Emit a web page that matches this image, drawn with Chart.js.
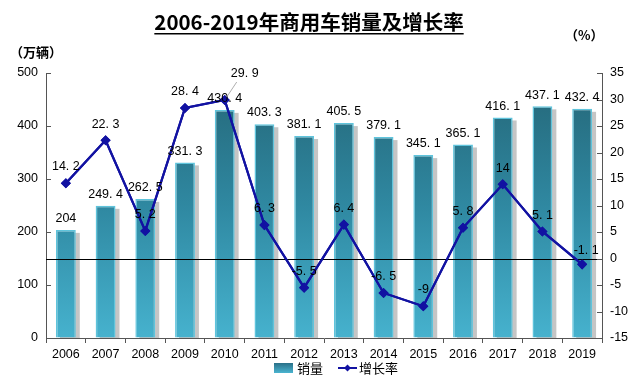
<!DOCTYPE html>
<html>
<head>
<meta charset="utf-8">
<script src="https://cdn.jsdelivr.net/npm/chart.js@4"></script>
<style>
  html, body { margin: 0; padding: 0; background: #fff; }
  #wrap { width: 640px; height: 376px; }
</style>
</head>
<body>
<div id="wrap"><canvas id="myChart" width="640" height="376"></canvas></div>
<script>
var years = ["2006", "2007", "2008", "2009", "2010", "2011", "2012", "2013", "2014", "2015", "2016", "2017", "2018", "2019"];
var sales = [204, 249.4, 262.5, 331.3, 430.4, 403.3, 381.1, 405.5, 379.1, 345.1, 365.1, 416.1, 437.1, 432.4];
var growth = [14.2, 22.3, 5.2, 28.4, 29.9, 6.3, -5.5, 6.4, -6.5, -9, 5.8, 14, 5.1, -1.1];
var titleText = "2006-2019年商用车销量及增长率";

var numFont = "'Liberation Sans', Arial, sans-serif";
var tickFont = "'Liberation Sans', Arial, sans-serif";
var cjkFont = "'Noto Sans CJK SC', sans-serif";
var lineColor = "#1212a2";

function fmt(v) {
    // the reference shows a spaced decimal point
    return String(v).replace(".", ". ");
}

function barGradient(context) {
    var chart = context.chart;
    var area = chart.chartArea;
    if (!area) return "#3a9ab8";
    var g = chart.ctx.createLinearGradient(0, area.top, 0, area.bottom);
    g.addColorStop(0, "#246576");
    g.addColorStop(0.5, "#2f88a1");
    g.addColorStop(1, "#46b2ce");
    return g;
}

var extras = {
    id: "extras",
    beforeDatasetsDraw: function (chart) {
        var ctx = chart.ctx;
        var meta = chart.getDatasetMeta(0);
        ctx.save();
        ctx.fillStyle = "rgba(150,150,150,0.55)";
        meta.data.forEach(function (bar) {
            var w = bar.width;
            ctx.fillRect(bar.x - w / 2 + 4, bar.y + 3, w, chart.chartArea.bottom - bar.y - 3);
        });
        ctx.restore();
    },
    afterDraw: function (chart) {
        var ctx = chart.ctx;
        var area = chart.chartArea;
        var y1 = chart.scales.y;
        var y2 = chart.scales.y2;
        ctx.save();

        // zero line of the growth axis
        var zy = Math.round(y2.getPixelForValue(0)) + 0.5;
        ctx.strokeStyle = "#000";
        ctx.lineWidth = 1;
        ctx.beginPath();
        ctx.moveTo(area.left, zy);
        ctx.lineTo(area.right, zy);
        ctx.stroke();

        // inward tick marks on both value axes
        ctx.strokeStyle = "#555";
        ctx.beginPath();
        y1.ticks.forEach(function (t) {
            var py = Math.round(y1.getPixelForValue(t.value)) + 0.5;
            ctx.moveTo(area.left, py);
            ctx.lineTo(area.left + 5, py);
        });
        y2.ticks.forEach(function (t) {
            var py = Math.round(y2.getPixelForValue(t.value)) + 0.5;
            ctx.moveTo(area.right, py);
            ctx.lineTo(area.right - 5, py);
        });
        ctx.stroke();

        // redraw growth line on top of the zero line
        chart.getDatasetMeta(1).controller.draw();

        ctx.fillStyle = "#000";
        ctx.textAlign = "center";
        ctx.textBaseline = "bottom";
        ctx.font = "12.5px " + numFont;

        var bars = chart.getDatasetMeta(0).data;
        bars.forEach(function (bar, i) {
            ctx.fillText(fmt(sales[i]), bar.x, bar.y - 5);
        });
        var pts = chart.getDatasetMeta(1).data;
        pts.forEach(function (p, i) {
            var dx = 0, dy = 10;
            if (i === 4) { dx = 20; dy = 20; }
            if (i === 13) { dx = 4; dy = 8; }
            ctx.fillText(fmt(growth[i]), p.x + dx, p.y - dy);
        });
        // leader line for the 2010 label
        var p4 = pts[4];
        ctx.strokeStyle = "#999";
        ctx.lineWidth = 0.8;
        ctx.beginPath();
        ctx.moveTo(p4.x + 2, p4.y - 3);
        ctx.lineTo(p4.x + 12, p4.y - 18);
        ctx.stroke();

        // title
        ctx.font = "bold 20.5px " + cjkFont;
        ctx.textBaseline = "alphabetic";
        ctx.fillText(titleText, 309, 30);
        var tw = ctx.measureText(titleText).width;
        ctx.fillRect(309 - tw / 2, 33, tw, 1.5);

        // axis unit labels
        ctx.font = "bold 13px " + cjkFont;
        ctx.textAlign = "left";
        ctx.fillText("（万辆）", 10, 57);
        ctx.fillText("（%）", 565, 40);

        // legend
        ctx.font = "13px " + cjkFont;
        ctx.textBaseline = "middle";
        var ly = 368;
        var g = ctx.createLinearGradient(0, ly - 5, 0, ly + 5);
        g.addColorStop(0, "#2a7088");
        g.addColorStop(1, "#4ab4d0");
        ctx.fillStyle = g;
        ctx.fillRect(274, ly - 5, 19, 10);
        ctx.fillStyle = "#000";
        ctx.fillText("销量", 297, ly);
        ctx.strokeStyle = lineColor;
        ctx.lineWidth = 2;
        ctx.beginPath();
        ctx.moveTo(338, ly);
        ctx.lineTo(357, ly);
        ctx.stroke();
        ctx.fillStyle = lineColor;
        ctx.beginPath();
        ctx.moveTo(347.5, ly - 3.5);
        ctx.lineTo(351, ly);
        ctx.lineTo(347.5, ly + 3.5);
        ctx.lineTo(344, ly);
        ctx.closePath();
        ctx.fill();
        ctx.fillStyle = "#000";
        ctx.fillText("增长率", 359, ly);
        ctx.restore();
    }
};

var data = {
    labels: years,
    datasets: [
        {
            type: "bar",
            label: "销量",
            data: sales,
            yAxisID: "y",
            backgroundColor: barGradient,
            borderColor: "#5fc4dc",
            borderWidth: 1.5,
            barPercentage: 0.5,
            categoryPercentage: 1,
            order: 2
        },
        {
            type: "line",
            label: "增长率",
            data: growth,
            yAxisID: "y2",
            borderColor: lineColor,
            backgroundColor: lineColor,
            borderWidth: 2.2,
            pointStyle: "rectRot",
            pointRadius: 3.5,
            tension: 0,
            order: 1
        }
    ]
};

var config = {
    data: data,
    options: {
        responsive: false,
        animation: false,
        layout: { padding: { top: 73, bottom: 10, left: 0, right: 0 } },
        plugins: {
            legend: { display: false },
            tooltip: { enabled: false }
        },
        scales: {
            x: {
                grid: { display: true, drawOnChartArea: false, tickLength: 5, color: "#555", offset: true },
                border: { color: "#555" },
                ticks: { color: "#000", font: { family: tickFont, size: 12.5 }, padding: 4 }
            },
            y: {
                position: "left",
                min: 0,
                max: 500,
                afterFit: function (scale) { scale.width = 46; },
                grid: { drawOnChartArea: false, drawTicks: false },
                border: { color: "#555" },
                ticks: { stepSize: 100, color: "#000", font: { family: tickFont, size: 12.5 }, padding: 8 }
            },
            y2: {
                position: "right",
                min: -15,
                max: 35,
                afterFit: function (scale) { scale.width = 38; },
                grid: { drawOnChartArea: false, drawTicks: false },
                border: { color: "#555" },
                ticks: { stepSize: 5, color: "#000", font: { family: tickFont, size: 12.5 }, padding: 8 }
            }
        }
    },
    plugins: [extras]
};

var ctx = document.getElementById("myChart").getContext("2d");
var myChart = new Chart(ctx, config);
</script>
</body>
</html>
